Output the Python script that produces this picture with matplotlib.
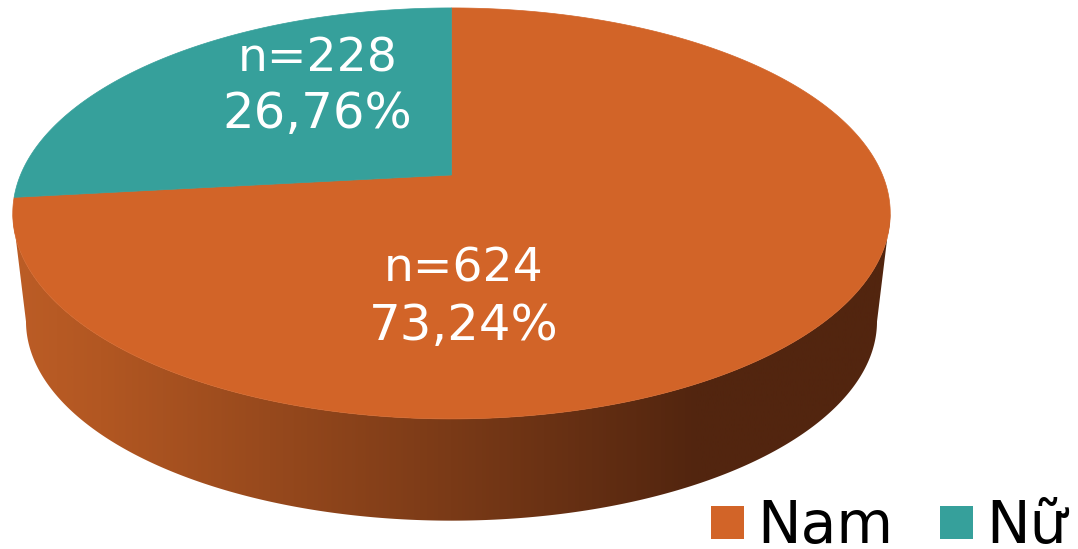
import numpy as np
import matplotlib
matplotlib.use("Agg")
import matplotlib.pyplot as plt
from matplotlib.patches import Polygon, Rectangle
from matplotlib.colors import LinearSegmentedColormap

categories = ["Nam", "Nữ"]
counts = [624, 228]
percent_labels = ["73,24%", "26,76%"]
colors = ["#D26428", "#36A09B"]

W, H = 1078, 549
fig = plt.figure(figsize=(W / 100, H / 100), dpi=100, facecolor="white")
ax = fig.add_axes([0, 0, 1, 1])
ax.set_xlim(0, W)
ax.set_ylim(H, 0)
ax.axis("off")

K = 0.187
def project(theta, cx=451.5, cy=175.0, b=431.0, a=198.3):
    """theta measured clockwise from the far point of the disc."""
    u, v = np.sin(theta), np.cos(theta)
    d = 1 + K * v
    return cx + b * u / d, cy - a * v / d

total = sum(counts)
end_m = 2 * np.pi * counts[0] / total
th_m = np.linspace(0.0, end_m, 400)
th_f = np.linspace(end_m, 2 * np.pi, 200)

# side wall: from the right-most to the left-most point of each rim
LOW = dict(cx=451.5, cy=284.0, b=418.0, a=192.4)
scan = np.linspace(0, 2 * np.pi, 2000)
def rim(**kw):
    x = project(scan, **kw)[0]
    return project(np.linspace(scan[np.argmax(x)], scan[np.argmin(x)], 500), **kw)
xu, yu = rim()
xl, yl = rim(**LOW)
side = np.column_stack([np.r_[xu, xl[::-1]], np.r_[yu, yl[::-1]]])
cmap = LinearSegmentedColormap.from_list("side", [(0, "#BC5D26"), (0.1, "#B25722"),
    (0.5, "#7A3A17"), (0.78, "#52250F"), (1, "#52250F")])
im = ax.imshow(np.linspace(0, 1, 512)[None, :], extent=(12, 891, H, 0), cmap=cmap,
               aspect="auto", zorder=1)
clip = Polygon(side, closed=True, transform=ax.transData, fc="none", ec="none")
ax.add_patch(clip)
im.set_clip_path(clip)
ax.set_xlim(0, W)
ax.set_ylim(H, 0)

# top face
apex = 451.5, 175.0
for th, col in ((th_m, colors[0]), (th_f, colors[1])):
    x, y = project(th)
    ax.add_patch(Polygon(np.column_stack([np.r_[apex[0], x], np.r_[apex[1], y]]),
                         closed=True, fc=col, ec=col, lw=0.5, zorder=2))

# labels
txt = dict(color="white", ha="center", va="baseline", family="DejaVu Sans", zorder=3)
label_pos = [(463.5, 282), (317.5, 71)]
for (lx, ly), n, p in zip(label_pos, counts, percent_labels):
    ax.text(lx, ly, f"n={n}", fontsize=34, **txt)
    ax.text(lx, ly + 57.5, p, fontsize=35.8, **txt)

# legend
for x0, xt, cat, col in zip((711, 940), (757, 986), categories, colors):
    ax.add_patch(Rectangle((x0, 506), 32.5, 33, fc=col, ec="none", zorder=3))
    ax.text(xt, 543, cat, color="black", fontsize=42, family="DejaVu Sans",
            va="baseline", ha="left", zorder=3)

fig.savefig("out.png", dpi=100, facecolor="white")
